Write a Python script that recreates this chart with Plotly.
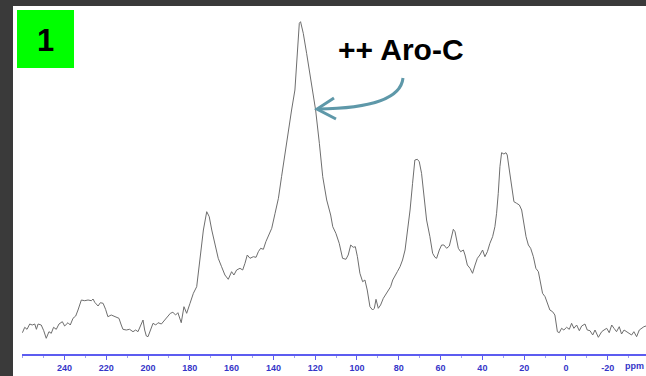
import plotly.graph_objects as go

# chemical shift (ppm) and signal intensity (arbitrary units)
ppm = [260.1, 259.0, 257.9, 256.6, 255.4, 254.2, 253.4, 252.6, 251.1, 249.9,
       248.7, 247.4, 246.3, 245.2, 243.9, 242.6, 241.0, 239.9, 238.3, 237.2,
       235.9, 234.6, 233.5, 231.9, 230.3, 228.7, 227.1, 226.3, 225.5, 223.9,
       222.8, 221.5, 220.3, 219.2, 217.6, 216.0, 213.9, 212.8, 212.0, 210.4,
       208.8, 207.2, 205.9, 204.8, 203.2, 202.4, 201.6, 200.8, 200.0, 199.2,
       197.6, 196.3, 195.2, 193.6, 192.0, 190.4, 189.3, 188.1, 186.8, 185.7,
       184.1, 182.8, 181.5, 179.9, 178.3, 176.7, 175.9, 174.8, 173.5, 171.9,
       170.7, 169.5, 168.0, 166.4, 164.8, 163.2, 161.6, 160.0, 158.9, 157.6,
       156.0, 154.7, 153.6, 152.5, 151.2, 149.6, 148.3, 147.2, 146.1, 144.8,
       143.6, 142.0, 140.8, 139.2, 137.6, 136.1, 134.5, 132.9, 131.3, 129.7,
       128.6, 127.6, 127.0, 125.7, 124.1, 122.2, 120.9, 119.8, 118.0, 116.4,
       114.5, 112.6, 111.6, 110.1, 108.5, 106.9, 105.3, 104.2, 103.0, 101.8,
       100.8, 99.8, 98.6, 97.3, 96.2, 95.1, 93.8, 92.5, 91.7, 90.9,
       89.8, 88.7, 87.4, 86.1, 85.0, 83.9, 82.9, 81.8, 80.7, 79.4,
       78.2, 77.0, 75.9, 74.6, 73.4, 72.3, 71.1, 70.2, 69.1, 68.3,
       67.5, 66.7, 65.1, 63.8, 62.7, 61.9, 60.6, 59.5, 58.4, 57.1,
       55.8, 54.7, 53.9, 53.1, 52.3, 51.5, 50.4, 49.1, 48.3, 47.2,
       45.9, 44.7, 43.5, 42.4, 41.2, 39.9, 38.8, 37.6, 36.4, 35.1,
       34.0, 33.2, 32.4, 31.6, 30.8, 29.7, 28.7, 28.1, 27.1, 26.0,
       24.9, 23.6, 22.3, 21.2, 20.1, 19.1, 18.0, 16.9, 15.6, 14.4,
       13.2, 12.1, 11.2, 10.0, 8.9, 7.7, 6.4, 5.3, 4.1, 3.2,
       2.1, 1.0, -0.3, -1.6, -2.7, -3.8, -5.1, -6.4, -7.5, -9.1,
       -10.2, -11.5, -12.8, -13.9, -15.5, -17.1, -18.2, -19.5, -20.7, -21.9,
       -23.0, -24.2, -25.5, -26.6, -27.8, -29.0, -30.3, -31.4, -32.5, -33.8,
       -35.1, -36.2, -37.3, -38.3]

intensity = [21.3, 26.7, 24.7, 30, 29, 30, 24.7, 30, 29, 23.3,
             15.7, 22.3, 20.7, 26.7, 24.7, 30, 32.3, 28, 31.3, 29,
             35.7, 38, 44, 54, 53.3, 54, 53.3, 55, 51.7, 48,
             51.3, 50.7, 44.7, 37.3, 39, 37.3, 35.7, 29, 24.7, 24,
             24.7, 22.3, 24, 22.3, 30.7, 34, 24, 18, 17.3, 22.3,
             30.7, 29, 31.3, 30, 34, 37.3, 40.7, 41.7, 39, 41.3,
             31.3, 47.3, 40.7, 50.7, 60.7, 67.3, 80.7, 100.7, 124, 142.3,
             137.3, 124, 110.7, 95.7, 87.3, 79, 74.7, 82.3, 79, 84,
             85.7, 84, 90.7, 99, 95.7, 97.3, 96.7, 102.3, 105.7, 104.7,
             112.3, 120.7, 125.7, 140.7, 155.7, 177.3, 200.7, 224, 244, 264,
             297.3, 330.7, 332.3, 320.7, 300.7, 277.3, 260.7, 244, 210.7, 177.3,
             154, 139, 127.3, 120.7, 110.7, 95.7, 94.7, 99, 109, 106.7,
             107.3, 97.3, 80.7, 72.3, 74, 64, 47.3, 44, 45.7, 54.7,
             45.7, 49, 55.7, 60, 62.3, 67.3, 74, 79, 82.3, 87.3,
             94, 104, 120.7, 144, 170.7, 194, 194.7, 192.3, 180.7, 164,
             147.3, 134, 117.3, 100.7, 96.7, 95.7, 104, 109, 109, 105.7,
             108, 117.3, 124.7, 122.3, 114, 105.7, 102.3, 104, 99, 89,
             85.7, 80.7, 89, 95.7, 99, 104, 97.3, 102.3, 110.7, 117.3,
             127.3, 140.7, 160.7, 187.3, 201.3, 200, 201.3, 199, 184, 167.3,
             152.3, 150.7, 149, 144, 130.7, 117.3, 109, 105.7, 97.3, 85.7,
             82.3, 70.7, 60.7, 57.3, 50.7, 44, 42.3, 39, 22.3, 21.3,
             25.7, 24, 26.7, 24.7, 30.7, 25.7, 29, 23.3, 28, 30,
             24, 23.3, 19, 24, 16.7, 22.3, 24, 25.7, 21.3, 29,
             25.7, 22.3, 27.3, 20, 24, 22.3, 20.7, 19, 22.3, 17.3,
             24, 25.7, 27.3, 28]

tick_vals = [240, 220, 200, 180, 160, 140, 120, 100, 80, 60, 40, 20, 0, -20]
tick_text = ["<b>%d</b>" % v for v in tick_vals]

W, H = 646, 376
ML, MR, MT, MB = 22, 0, 6, 22
PW, PH = W - ML - MR, H - MT - MB


def px(x):
    return (x - ML) / PW


def py(y):
    return (H - MB - y) / PH


fig = go.Figure()
fig.add_trace(go.Scatter(x=ppm, y=intensity, mode="lines",
                         line=dict(color="#6e6e6e", width=1),
                         hoverinfo="skip", showlegend=False))

axis_blue = "#5c5cf0"
label_blue = "#3535c8"

fig.update_layout(
    width=W, height=H,
    margin=dict(l=ML, r=MR, t=MT, b=MB, pad=0),
    paper_bgcolor="white", plot_bgcolor="white",
    showlegend=False,
    xaxis=dict(range=[260.3, -38.3], showgrid=False, zeroline=False,
               showline=True, linecolor=axis_blue, linewidth=1.5,
               ticks="outside", ticklen=4, tickcolor=axis_blue, tickwidth=1,
               tickvals=tick_vals, ticktext=tick_text,
               tickfont=dict(family="Liberation Sans, Arial", size=9, color=label_blue),
               minor=dict(dtick=10, ticks="outside", ticklen=2, tickcolor="#a0a0f0"),
               fixedrange=True),
    yaxis=dict(range=[0, PH], visible=False, fixedrange=True),
    shapes=[
        dict(type="rect", xref="paper", yref="paper",
             x0=px(0), x1=px(13), y0=py(H), y1=py(0),
             fillcolor="#3a3a3a", line=dict(width=0), layer="above"),
        dict(type="rect", xref="paper", yref="paper",
             x0=px(0), x1=px(W), y0=py(6), y1=py(0),
             fillcolor="#3a3a3a", line=dict(width=0), layer="above"),
        dict(type="rect", xref="paper", yref="paper",
             x0=px(17), x1=px(74), y0=py(68), y1=py(10),
             fillcolor="#00ff00", line=dict(width=0), layer="above"),
        dict(type="path", xref="paper", yref="paper",
             path=f"M {px(403)},{py(78)} Q {px(400)},{py(108)} {px(318)},{py(109)}",
             line=dict(color="#5e98a9", width=3), layer="above"),
        dict(type="path", xref="paper", yref="paper",
             path=f"M {px(334)},{py(98)} L {px(317)},{py(109)} L {px(336)},{py(119)}",
             line=dict(color="#5e98a9", width=3), layer="above"),
    ],
    annotations=[
        dict(text="<b>1</b>", xref="paper", yref="paper", x=px(45), y=py(40),
             showarrow=False, xanchor="center", yanchor="middle",
             font=dict(family="Liberation Sans, Arial", size=31, color="black")),
        dict(text="<b>++ Aro-C</b>", xref="paper", yref="paper", x=px(401), y=py(49),
             showarrow=False, xanchor="center", yanchor="middle",
             font=dict(family="Liberation Sans, Arial", size=30, color="black")),
        dict(text="<b>ppm</b>", xref="paper", yref="paper", x=1.0, y=py(366),
             showarrow=False, xanchor="right", yanchor="middle",
             font=dict(family="Liberation Sans, Arial", size=9, color=label_blue)),
    ],
)

fig.write_html("out.html", config={"displayModeBar": False},
               post_script="document.body.style.margin='0';document.body.style.padding='0';document.body.style.overflow='hidden';")
